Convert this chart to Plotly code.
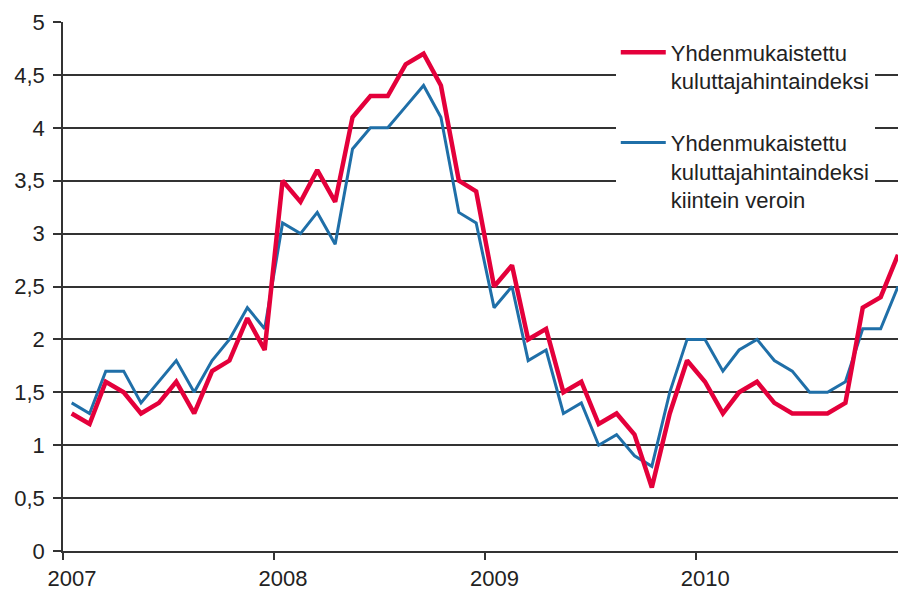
import plotly.graph_objects as go

months = [f"{y}-{m:02d}-16" for y in range(2007, 2011) for m in range(1, 13)]

hicp = [1.3, 1.2, 1.6, 1.5, 1.3, 1.4, 1.6, 1.3, 1.7, 1.8, 2.2, 1.9,
        3.5, 3.3, 3.6, 3.3, 4.1, 4.3, 4.3, 4.6, 4.7, 4.4, 3.5, 3.4,
        2.5, 2.7, 2.0, 2.1, 1.5, 1.6, 1.2, 1.3, 1.1, 0.6, 1.3, 1.8,
        1.6, 1.3, 1.5, 1.6, 1.4, 1.3, 1.3, 1.3, 1.4, 2.3, 2.4, 2.8]

hicp_ct = [1.4, 1.3, 1.7, 1.7, 1.4, 1.6, 1.8, 1.5, 1.8, 2.0, 2.3, 2.1,
           3.1, 3.0, 3.2, 2.9, 3.8, 4.0, 4.0, 4.2, 4.4, 4.1, 3.2, 3.1,
           2.3, 2.5, 1.8, 1.9, 1.3, 1.4, 1.0, 1.1, 0.9, 0.8, 1.5, 2.0,
           2.0, 1.7, 1.9, 2.0, 1.8, 1.7, 1.5, 1.5, 1.6, 2.1, 2.1, 2.5]

y_ticks = [0, 0.5, 1, 1.5, 2, 2.5, 3, 3.5, 4, 4.5, 5]
y_labels = ["0", "0,5", "1", "1,5", "2", "2,5", "3", "3,5", "4", "4,5", "5"]
x_ticks = ["2007-01-01", "2008-01-01", "2009-01-01", "2010-01-01"]
x_labels = ["2007", "2008", "2009", "2010"]

name1 = "Yhdenmukaistettu<br>kuluttajahintaindeksi"
name2 = "Yhdenmukaistettu<br>kuluttajahintaindeksi<br>kiintein veroin"

fig = go.Figure()
fig.add_trace(go.Scatter(x=months, y=hicp_ct, mode="lines", name=name2,
                         line=dict(color="#1f6fa8", width=3), legendgroup="b",
                         legendrank=2, cliponaxis=False))
fig.add_trace(go.Scatter(x=months, y=hicp, mode="lines", name=name1,
                         line=dict(color="#e4003b", width=4.5), legendgroup="a",
                         legendrank=1, cliponaxis=False))

font = dict(family="Liberation Sans, Arial, sans-serif", size=22, color="#222222")

fig.update_layout(
    width=898, height=592,
    margin=dict(l=63, r=0, t=22, b=41, autoexpand=False),
    paper_bgcolor="white", plot_bgcolor="white",
    font=font,
    showlegend=True,
    legend=dict(x=0.662, y=0.982, xanchor="left", yanchor="top",
                bgcolor="white", font=font, valign="top",
                tracegroupgap=30, itemwidth=45),
    xaxis=dict(type="date", range=["2007-01-01", "2010-12-16"],
               tickvals=x_ticks, ticktext=x_labels, automargin=False,
               ticks="outside", ticklen=7, tickwidth=1.5, tickcolor="#333333",
               showline=True, linecolor="#333333", linewidth=2,
               showgrid=False, zeroline=False, ticklabelshift=9,
               ticklabelstandoff=0),
    yaxis=dict(range=[0, 5], tickvals=y_ticks, ticktext=y_labels,
               automargin=False,
               ticks="outside", ticklen=8, tickwidth=1.5, tickcolor="#333333",
               showline=True, linecolor="#333333", linewidth=1.5,
               showgrid=True, gridcolor="#333333", gridwidth=1.5,
               zeroline=False, ticklabelstandoff=4),
)

fig.write_html("out.html", config={"displayModeBar": False},
               post_script="document.body.style.margin='0';"
                           "document.body.style.overflow='hidden';")
